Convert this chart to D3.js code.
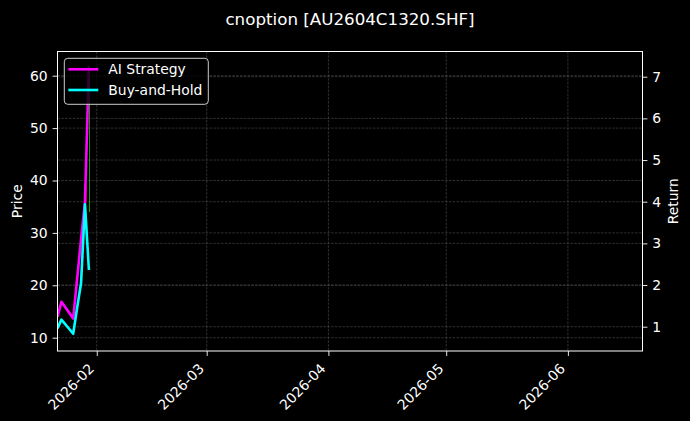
<!DOCTYPE html>
<html>
<head>
<meta charset="utf-8">
<script src="https://cdn.jsdelivr.net/npm/d3@7"></script>
<style>
    html, body { margin: 0; padding: 0; background: #000; }
    svg { display: block; font-family: "DejaVu Sans", sans-serif; }
</style>
</head>
<body>
<svg id="chart" width="690" height="421"></svg>
<script>
// series (returns are read on the right axis)
var dates = ["2026-01-22", "2026-01-23", "2026-01-26", "2026-01-27", "2026-01-28", "2026-01-29", "2026-01-30"];
var aiStrategy = [1.24, 1.60, 1.20, 2.15, 3.10, 4.00, 7.26];
var buyAndHold = [0.96, 1.17, 0.83, 1.45, 2.05, 3.94, 2.36];

// small trade marks seen near the end of the lines
var signalDates = ["2026-01-29", "2026-01-30"];
var signalFrom = [4.40, 7.20];
var signalTo = [3.97, 3.75];
var signalColors = ["#ee0000", "#119911"];

// axes
var xLimits = ["2026-01-22", "2026-06-20"];
var priceLimits = [7.46, 64.62];
var returnLimits = [0.417, 7.605];
var priceTicks = [10, 20, 30, 40, 50, 60];
var returnTicks = [1, 2, 3, 4, 5, 6, 7];
var monthTicks = ["2026-02", "2026-03", "2026-04", "2026-05", "2026-06"];

var chartTitle = "cnoption [AU2604C1320.SHF]";
var seriesNames = ["AI Strategy", "Buy-and-Hold"];
var seriesColors = ["#ff00ff", "#00ffff"];

var margin = {top: 51.5, right: 47.5, bottom: 70, left: 57.5},
    width = 690 - margin.left - margin.right,
    height = 421 - margin.top - margin.bottom;

var parseDay = d3.timeParse("%Y-%m-%d"),
    parseMonth = d3.timeParse("%Y-%m");

var svg = d3.select("#chart");
svg.append("rect").attr("width", 690).attr("height", 421).attr("fill", "#000");

var g = svg.append("g").attr("transform", "translate(" + margin.left + "," + margin.top + ")");

var x = d3.scaleTime().domain(xLimits.map(parseDay)).range([0, width]);
var yPrice = d3.scaleLinear().domain(priceLimits).range([height, 0]);
var yReturn = d3.scaleLinear().domain(returnLimits).range([height, 0]);

/***
 * Dashed grid lines for x ticks and both y axes
 */
function drawGrid() {
    var grid = g.append("g").attr("class", "grid")
        .attr("stroke", "#6a6a6a")
        .attr("stroke-width", 0.6)
        .attr("stroke-dasharray", "2.6,1.2")
        .attr("opacity", 0.75);

    grid.selectAll("line.gx").data(monthTicks).enter().append("line")
        .attr("x1", function (d) { return x(parseMonth(d)); })
        .attr("x2", function (d) { return x(parseMonth(d)); })
        .attr("y1", 0).attr("y2", height);

    grid.selectAll("line.gp").data(priceTicks).enter().append("line")
        .attr("x1", 0).attr("x2", width)
        .attr("y1", function (d) { return yPrice(d); })
        .attr("y2", function (d) { return yPrice(d); });

    grid.selectAll("line.gr").data(returnTicks).enter().append("line")
        .attr("x1", 0).attr("x2", width)
        .attr("y1", function (d) { return yReturn(d); })
        .attr("y2", function (d) { return yReturn(d); });
}

function styleAxis(sel) {
    sel.select(".domain").remove();
    sel.selectAll(".tick line").attr("stroke", "#fff").attr("stroke-width", 0.9);
    sel.selectAll(".tick text").attr("fill", "#fff").style("font-size", "13.9px")
        .style("font-family", "DejaVu Sans");
}

function drawAxes() {
    var xAxis = g.append("g")
        .attr("transform", "translate(0," + height + ")")
        .call(d3.axisBottom(x)
            .tickValues(monthTicks.map(parseMonth))
            .tickSize(4.9)
            .tickFormat(d3.timeFormat("%Y-%m")));
    styleAxis(xAxis);
    // rotated labels, right end anchored below the tick (like ha='right')
    xAxis.selectAll(".tick text")
        .attr("text-anchor", "end")
        .attr("dy", null)
        .attr("y", null)
        .attr("transform", "translate(-2.3,18.6) rotate(-45)");

    var left = g.append("g")
        .call(d3.axisLeft(yPrice).tickValues(priceTicks).tickSize(4.9).tickPadding(4.9));
    styleAxis(left);

    var right = g.append("g")
        .attr("transform", "translate(" + width + ",0)")
        .call(d3.axisRight(yReturn).tickValues(returnTicks).tickSize(4.9).tickPadding(4.9));
    styleAxis(right);

    // frame
    g.append("rect")
        .attr("width", width).attr("height", height)
        .attr("fill", "none").attr("stroke", "#fff").attr("stroke-width", 1);

    svg.append("text")
        .attr("transform", "translate(17," + (margin.top + height / 2) + ") rotate(-90)")
        .attr("text-anchor", "middle").attr("dy", "0.35em")
        .attr("fill", "#fff").style("font-size", "13.9px")
        .text("Price");

    svg.append("text")
        .attr("transform", "translate(673," + (margin.top + height / 2) + ") rotate(-90)")
        .attr("text-anchor", "middle").attr("dy", "0.35em")
        .attr("fill", "#fff").style("font-size", "13.9px")
        .text("Return");

    svg.append("text")
        .attr("x", margin.left + width / 2).attr("y", 25)
        .attr("text-anchor", "middle")
        .attr("fill", "#fff").style("font-size", "16.7px")
        .text(chartTitle);
}

function drawLines() {
    var plot = g.append("g");
    plot.append("clipPath").attr("id", "clip")
        .append("rect").attr("width", width).attr("height", height);
    plot.attr("clip-path", "url(#clip)");

    plot.selectAll("line.signal").data(signalDates).enter().append("line")
        .attr("x1", function (d) { return x(parseDay(d)) + 0.6; })
        .attr("x2", function (d) { return x(parseDay(d)) + 0.6; })
        .attr("y1", function (d, i) { return yReturn(signalFrom[i]); })
        .attr("y2", function (d, i) { return yReturn(signalTo[i]); })
        .attr("stroke", function (d, i) { return signalColors[i]; })
        .attr("stroke-width", function (d, i) { return i == 0 ? 2 : 1; });

    var line = d3.line()
        .x(function (d) { return x(parseDay(d.date)); })
        .y(function (d) { return yReturn(d.value); });

    [aiStrategy, buyAndHold].forEach(function (values, i) {
        var rows = dates.map(function (d, j) { return {date: d, value: values[j]}; });
        plot.append("path")
            .datum(rows)
            .attr("d", line)
            .attr("fill", "none")
            .attr("stroke", seriesColors[i])
            .attr("stroke-width", 2.6)
            .attr("stroke-linejoin", "round");
    });
}

function drawLegend() {
    var lg = svg.append("g").attr("transform", "translate(64.3,58.3)");
    lg.append("rect")
        .attr("width", 144).attr("height", 46)
        .attr("rx", 3.5).attr("ry", 3.5)
        .attr("fill", "#000").attr("fill-opacity", 0.8)
        .attr("stroke", "#cccccc").attr("stroke-width", 1);

    var item = lg.selectAll("g.item").data(seriesNames).enter().append("g")
        .attr("transform", function (d, i) { return "translate(0," + (11 + i * 20.7) + ")"; });
    item.append("line")
        .attr("x1", 4).attr("x2", 34)
        .attr("stroke", function (d, i) { return seriesColors[i]; })
        .attr("stroke-width", 2.6);
    item.append("text")
        .attr("x", 44).attr("dy", "0.36em")
        .attr("fill", "#fff").style("font-size", "13.9px")
        .text(function (d) { return d; });
}

drawGrid();
drawLines();
drawAxes();
drawLegend();
</script>
</body>
</html>
